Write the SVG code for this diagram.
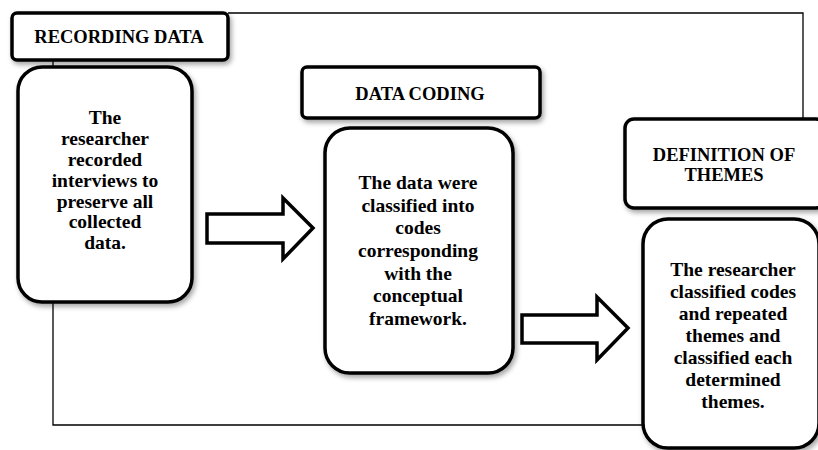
<svg xmlns="http://www.w3.org/2000/svg" width="818" height="450" viewBox="0 0 818 450">
<defs>
<filter id="sh" x="-10%" y="-10%" width="130%" height="130%">
<feDropShadow dx="2" dy="3" stdDeviation="2.5" flood-color="#000" flood-opacity="0.35"/>
</filter>
<style>
.box{fill:#fff;stroke:#000;stroke-width:3.5;filter:url(#sh)}
.arrow{fill:#fff;stroke:#000;stroke-width:3.5;stroke-linejoin:miter}
.frame{fill:none;stroke:#000;stroke-width:1.3}
text{font-family:"Liberation Serif","Times New Roman",serif;font-weight:bold;fill:#000;text-anchor:middle}
.h{font-size:18.5px}
.b{font-size:19.5px}
</style>
</defs>
<rect width="818" height="450" fill="#fff"/>
<g id="frame">
<polyline class="frame" points="53,60 53,425 643,425"/>
<polyline class="frame" points="228,13 803,13 803,119"/>
</g>
<g id="connectors">
<path class="arrow" d="M207,214 L283,214 L283,198 L313,228 L283,259 L283,243 L207,243 Z"/>
<path class="arrow" d="M522,315 L597,315 L597,297 L628,328 L597,360 L597,343 L522,343 Z"/>
</g>
<g id="recording-data">
<rect class="box" x="12" y="13" width="216" height="47" rx="5"/>
<text class="h" x="119" y="43">RECORDING DATA</text>
</g>
<g id="recording-desc">
<rect class="box" x="18" y="67" width="174" height="235" rx="24"/>
<text class="b" x="105"><tspan x="105" y="124">The</tspan><tspan x="105" y="145">researcher</tspan><tspan x="105" y="166">recorded</tspan><tspan x="105" y="187">interviews to</tspan><tspan x="105" y="208">preserve all</tspan><tspan x="105" y="228">collected</tspan><tspan x="105" y="249">data.</tspan></text>
</g>
<g id="data-coding">
<rect class="box" x="302" y="67" width="238" height="51" rx="5"/>
<text class="h" x="420" y="100">DATA CODING</text>
</g>
<g id="coding-desc">
<rect class="box" x="325" y="128" width="188" height="245" rx="25"/>
<text class="b"><tspan x="418" y="189">The data were</tspan><tspan x="418" y="212">classified into</tspan><tspan x="418" y="234">codes</tspan><tspan x="418" y="257">corresponding</tspan><tspan x="418" y="280">with the</tspan><tspan x="418" y="302">conceptual</tspan><tspan x="418" y="325">framework.</tspan></text>
</g>
<g id="definition-themes">
<rect class="box" x="625" y="119" width="200" height="89" rx="9"/>
<text class="h"><tspan x="724" y="161">DEFINITION OF</tspan><tspan x="724" y="181">THEMES</tspan></text>
</g>
<g id="themes-desc">
<rect class="box" x="643" y="219" width="176" height="229" rx="25"/>
<text class="b"><tspan x="733" y="276">The researcher</tspan><tspan x="733" y="298">classified codes</tspan><tspan x="733" y="320">and repeated</tspan><tspan x="733" y="342">themes and</tspan><tspan x="733" y="364">classified each</tspan><tspan x="733" y="386">determined</tspan><tspan x="733" y="408">themes.</tspan></text>
</g>
</svg>
